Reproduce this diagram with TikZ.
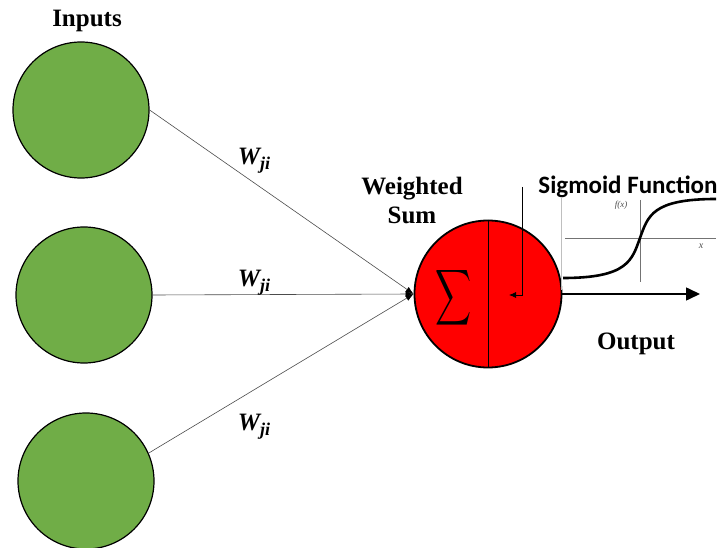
\documentclass[tikz,border=0pt]{standalone}
\usepackage{fontspec}
\setmainfont{Liberation Serif}
\newfontfamily\headfont{Carlito}
\usepackage{tikz}
\usetikzlibrary{positioning, arrows.meta}
\definecolor{inputgreen}{RGB}{112,173,71}

\begin{document}
\begin{tikzpicture}[x=1pt, y=-1pt,
    neuron/.style={circle, draw, line width=1.2pt, fill=inputgreen, minimum size=136pt, inner sep=0pt},
    title/.style={font=\fontsize{25}{29}\selectfont\bfseries},
    weight/.style={font=\fontsize{25}{25}\selectfont\bfseries\itshape},
    link/.style={draw=black!70, line width=0.6pt, -{Latex[length=8pt,width=6pt,color=black]}}]

        % Page frame
        \fill[white] (0,0) rectangle (718,548);
        \useasboundingbox (0,0) rectangle (718,548);

        % Input neurons
        \node[neuron] (in1) at (81,110) {};
        \node[neuron] (in2) at (84,295) {};
        \node[neuron] (in3) at (86,481) {};
        \node[title] (inputs) at (87,21) {Inputs};

        % Summing unit
        \node[circle, draw, fill=red, line width=1.8pt, minimum size=147pt, inner sep=0pt] (sum) at (488,294) {};
        \draw[line width=1pt] (sum.north) -- (sum.south);
        \node[xscale=2.5, yscale=3.9] (sigma) at (454,298) {$\displaystyle\sum$};
        \node[title, align=center] (wsum) at (412,200) {Weighted\\Sum};

        % Weighted connections
        \draw[link] (in1.east) -- (sum.west);
        \draw[link] (in2.east) -- (sum.west);
        \draw[link] (in3.24) -- (sum.west);
        \foreach \n/\y in {1/161, 2/283, 3/427} {
          \node[weight] (w\n) at (254,\y) {W\raisebox{-5pt}{\fontsize{18}{18}\selectfont ji}};
        }

        % Sigmoid plot
        \draw[black!25, line width=0.5pt] (561,198) -- (561,290);
        \draw[black!55, line width=0.9pt] (565,238) -- (716,238);
        \draw[black!55, line width=0.9pt] (640,200) -- (640,282);
        \node[black!70, inner sep=1pt, font=\fontsize{9}{9}\selectfont\itshape] (fx) at (621,205) {f(x)};
        \node[black!70, inner sep=1pt, font=\fontsize{10}{10}\selectfont\itshape] (xlab) at (701,246) {x};
        \draw[line width=2.6pt] (563,278) .. controls (628,278) and (632,260) .. (640,238)
              .. controls (648,216) and (652,199) .. (716,199);
        \node[inner sep=1pt, font=\headfont\bfseries\fontsize{25}{25}\selectfont] (sigtitle) at (628,187) {Sigmoid Function};

        % Pointer into the activation half
        \coordinate (callout) at (522,187);
        \coordinate (pointer) at (509,295);
        \draw[line width=0.8pt, -{Latex[length=7pt,width=6pt]}] (callout) |- (pointer);

        % Output
        \coordinate (out) at (700,294);
        \draw[line width=1.6pt, -{Triangle[length=14pt,width=13pt]}] (sum.east) -- (out);
        \node[title] (output) at (636,344) {Output};
    \end{tikzpicture}
\end{document}
